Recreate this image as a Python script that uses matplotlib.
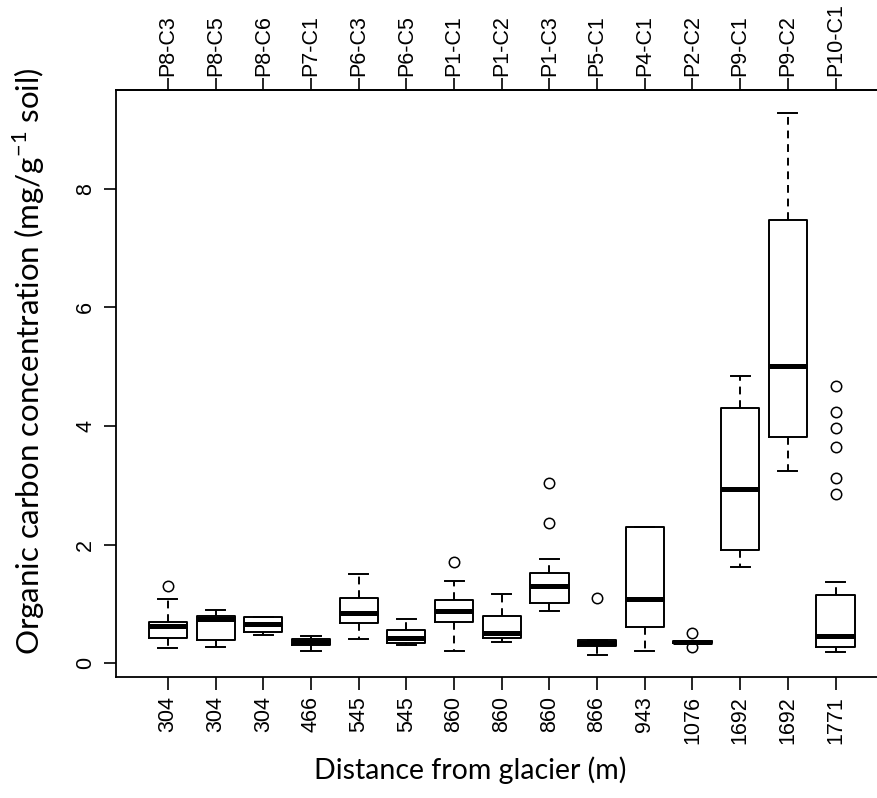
import matplotlib
matplotlib.use("Agg")
import matplotlib.pyplot as plt

# sample plots (top axis) and distance from glacier (bottom axis)
plot_ids = ["P8-C3", "P8-C5", "P8-C6", "P7-C1", "P6-C3", "P6-C5", "P1-C1", "P1-C2",
            "P1-C3", "P5-C1", "P4-C1", "P2-C2", "P9-C1", "P9-C2", "P10-C1"]
distance = ["304", "304", "304", "466", "545", "545", "860", "860",
            "860", "866", "943", "1076", "1692", "1692", "1771"]

# box statistics (mg/g soil)
whislo = [0.25, 0.275, 0.48, 0.21, 0.40, 0.30, 0.21, 0.355, 0.88, 0.13, 0.21, 0.34, 1.615, 3.235, 0.18]
q1 = [0.43, 0.38, 0.53, 0.30, 0.68, 0.33, 0.70, 0.43, 1.02, 0.29, 0.60, 0.34, 1.90, 3.81, 0.275]
med = [0.63, 0.74, 0.65, 0.355, 0.84, 0.43, 0.88, 0.51, 1.30, 0.345, 1.075, 0.355, 2.94, 5.02, 0.45]
q3 = [0.70, 0.80, 0.77, 0.40, 1.09, 0.55, 1.07, 0.80, 1.52, 0.38, 2.29, 0.37, 4.30, 7.48, 1.15]
whishi = [1.075, 0.895, 0.77, 0.45, 1.51, 0.75, 1.39, 1.17, 1.76, 0.38, 2.29, 0.37, 4.85, 9.29, 1.37]
fliers = [[1.30], [], [], [], [], [], [1.71], [], [2.36, 3.03], [1.09], [], [0.265, 0.51],
          [], [], [2.86, 3.12, 3.65, 3.96, 4.23, 4.675]]

stats = []
for i in range(len(plot_ids)):
    stats.append({"whislo": whislo[i], "q1": q1[i], "med": med[i], "q3": q3[i],
                  "whishi": whishi[i], "fliers": fliers[i], "label": distance[i]})

positions = list(range(1, len(plot_ids) + 1))

tick_font = "Liberation Sans"
label_font = "Lato"
tick_size = 15.5

fig = plt.figure(figsize=(8.77, 7.98), dpi=100)
ax = fig.add_axes([115.5 / 877, 121 / 798, (888 - 115.5) / 877, 587 / 798])

lw = 1.4
ax.bxp(stats, positions=positions, widths=0.8, capwidths=0.4,
       boxprops=dict(color="black", linewidth=lw),
       whiskerprops=dict(color="black", linewidth=lw, linestyle=(0, (4, 3))),
       capprops=dict(color="black", linewidth=lw),
       medianprops=dict(color="black", linewidth=3.6, solid_capstyle="butt"),
       flierprops=dict(marker="o", markersize=7.5, markerfacecolor="none",
                       markeredgecolor="black", markeredgewidth=1.1))

ax.set_xlim(-0.1, 16.1)
ax.set_ylim(-0.236, 9.67)

ax.set_yticks([0, 2, 4, 6, 8])
ax.set_yticklabels(["0", "2", "4", "6", "8"], rotation=90, va="center",
                   fontsize=tick_size, family=tick_font)
ax.set_xticks(positions)
ax.set_xticklabels(distance, rotation=90, fontsize=tick_size, family=tick_font)
ax.tick_params(axis="both", length=9, width=1.2, color="black", pad=5)

top = ax.secondary_xaxis("top")
top.set_xticks(positions)
top.set_xticklabels(plot_ids, rotation=90, fontsize=tick_size, family=tick_font)
top.tick_params(length=9, width=1.2, pad=1)
top.spines["top"].set_linewidth(1.3)

for s in ["left", "bottom", "top", "right"]:
    ax.spines[s].set_linewidth(1.3)

fig.text(470 / 877, 1 - 770 / 798, "Distance from glacier (m)", ha="center", va="center",
         fontsize=20.5, family=label_font)
fig.text(29 / 877, 1 - 361 / 798, r"Organic carbon concentration (mg/g$^{\mathregular{-1}}$ soil)",
         ha="center", va="center", rotation=90, fontsize=22.5, family=label_font)

fig.savefig("out.png", dpi=100)
